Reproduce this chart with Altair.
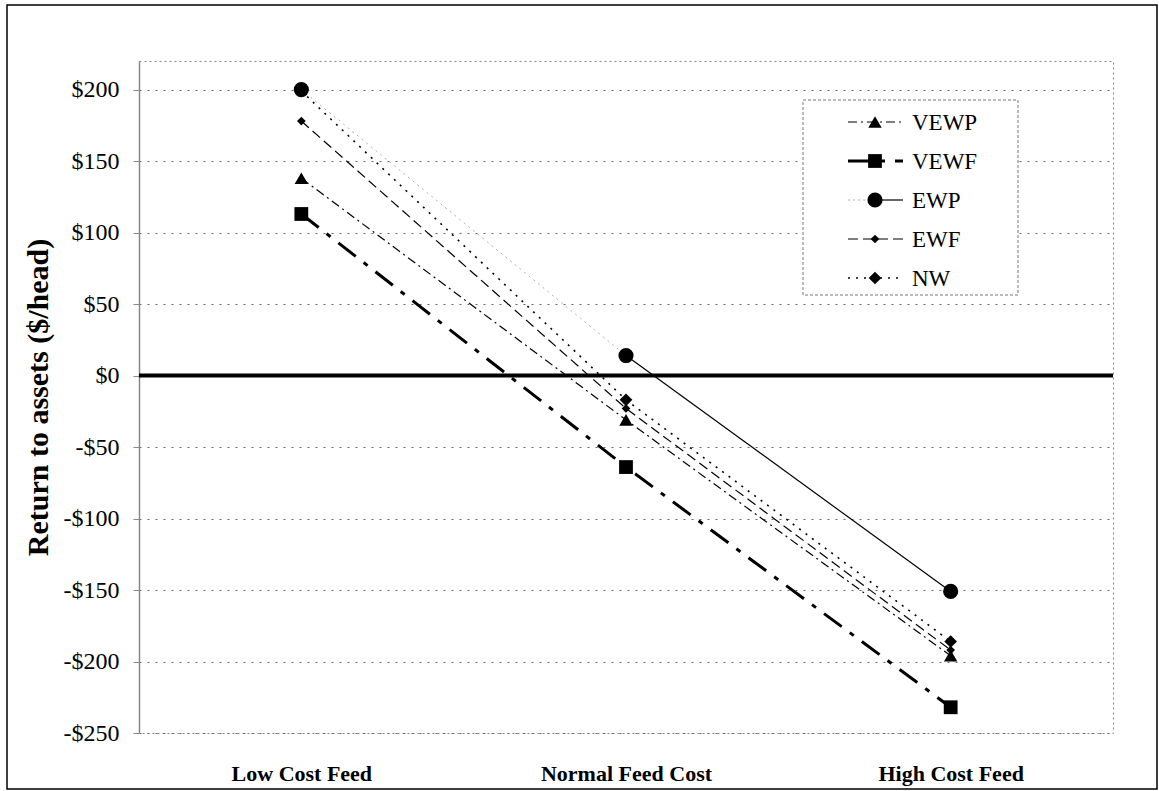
import altair as alt
import pandas as pd

# Feed-cost scenarios along the x axis
scenarios = ["Low Cost Feed", "Normal Feed Cost", "High Cost Feed"]

# Return to assets ($/head) for each weaning strategy
series_names = ["VEWP", "VEWF", "EWP", "EWF", "NW"]
vewp = [138, -31, -196]
vewf = [113, -64, -232]
ewp = [200, 14, -151]
ewf = [178, -23, -192]
nw = [199, -17, -186]
values = [vewp, vewf, ewp, ewf, nw]

y_ticks = [-250, -200, -150, -100, -50, 0, 50, 100, 150, 200]

# line / marker styling per series
styles = {
    "VEWP": dict(dash=[9, 4, 2, 4], width=1.2, shape="triangle-up", size=180),
    "VEWF": dict(dash=[22, 10, 5, 10], width=3, shape="square", size=190),
    "EWP": dict(dash=[1, 0], width=1.2, shape="circle", size=230),
    "EWF": dict(dash=[10, 5], width=1.2, shape="diamond", size=75),
    "NW": dict(dash=[2, 6], width=1.6, shape="diamond", size=160),
}

rows = []
for name, vals in zip(series_names, values):
    for s, v in zip(scenarios, vals):
        rows.append({"series": name, "scenario": s, "value": v})
df = pd.DataFrame(rows)

W, H = 974, 672
FONT = "Liberation Serif, Times New Roman, DejaVu Serif, serif"

x_enc = alt.X(
    "scenario:N",
    sort=scenarios,
    scale=alt.Scale(type="point", padding=0.5),
    axis=alt.Axis(
        title=None, labelAngle=0, ticks=False, domain=False, grid=False,
        labelFont=FONT, labelFontSize=22, labelFontWeight="bold",
        labelColor="black", labelPadding=30,
    ),
)
y_enc = alt.Y(
    "value:Q",
    scale=alt.Scale(domain=[-250, 220], nice=False, zero=False),
    axis=alt.Axis(
        title="Return to assets ($/head)", values=y_ticks,
        labelExpr="datum.value < 0 ? '-$' + abs(datum.value) : '$' + datum.value",
        labelFont=FONT, labelFontSize=24, labelColor="black", labelPadding=14,
        titleFont=FONT, titleFontSize=30, titleFontWeight="bold",
        titleColor="black", titlePadding=10,
        grid=True, gridDash=[2, 6], gridColor="#666", gridWidth=1,
        domain=True, domainColor="#888", domainWidth=1.5,
        ticks=True, tickSize=6, tickColor="#888",
    ),
)

# outer frame around the whole figure
frame = alt.Chart(pd.DataFrame({"k": [0]})).mark_rect(
    fill=None, stroke="black", strokeWidth=1.5
).encode(
    x=alt.value(-132), x2=alt.value(W + 44),
    y=alt.value(-56), y2=alt.value(H + 56),
)

zero_line = alt.Chart(pd.DataFrame({"value": [0]})).mark_rule(
    color="black", strokeWidth=4
).encode(y="value:Q")

layers = [frame, zero_line]
for name in series_names:
    st = styles[name]
    sub = df[df.series == name]
    if name == "EWP":
        # first leg printed faintly, second leg as a plain solid line
        layers.append(
            alt.Chart(sub[sub.scenario != scenarios[2]])
            .mark_line(color="#b0b0b0", strokeWidth=1, strokeDash=[2, 4])
            .encode(x=x_enc, y=y_enc)
        )
        layers.append(
            alt.Chart(sub[sub.scenario != scenarios[0]])
            .mark_line(color="black", strokeWidth=st["width"])
            .encode(x=x_enc, y=y_enc)
        )
    else:
        layers.append(
            alt.Chart(sub)
            .mark_line(color="black", strokeWidth=st["width"], strokeDash=st["dash"])
            .encode(x=x_enc, y=y_enc)
        )
    layers.append(
        alt.Chart(sub).mark_point(shape=st["shape"], size=st["size"], filled=True,
                                  color="black", opacity=1)
        .encode(x=x_enc, y=y_enc)
    )

# hand-drawn legend box in the upper right of the plot
lx0, lx1 = 664, 879
ly0, ly1 = 39, 234
legend_box = alt.Chart(pd.DataFrame({"k": [0]})).mark_rect(
    fill="white", stroke="#777", strokeWidth=1, strokeDash=[3, 2]
).encode(x=alt.value(lx0), x2=alt.value(lx1), y=alt.value(ly0), y2=alt.value(ly1))
layers.append(legend_box)

row_y0, row_step = 61, 39
for i, name in enumerate(series_names):
    st = styles[name]
    yy = row_y0 + i * row_step
    one = alt.Chart(pd.DataFrame({"k": [0]}))
    if name == "EWP":
        layers.append(
            one.mark_rule(color="#b0b0b0", strokeWidth=1, strokeDash=[2, 3])
            .encode(x=alt.value(709), x2=alt.value(736), y=alt.value(yy))
        )
        layers.append(
            one.mark_rule(color="black", strokeWidth=st["width"])
            .encode(x=alt.value(736), x2=alt.value(764), y=alt.value(yy))
        )
    else:
        layers.append(
            one.mark_rule(color="black", strokeWidth=st["width"], strokeDash=st["dash"])
            .encode(x=alt.value(709), x2=alt.value(764), y=alt.value(yy))
        )
    layers.append(
        one.mark_point(shape=st["shape"], size=st["size"], filled=True,
                       color="black", opacity=1)
        .encode(x=alt.value(736), y=alt.value(yy))
    )
    layers.append(
        one.mark_text(align="left", baseline="middle", font=FONT, fontSize=23,
                      color="black")
        .encode(x=alt.value(773), y=alt.value(yy + 1), text=alt.value(name))
    )

chart = alt.layer(*layers).properties(
    width=W, height=H,
    autosize=alt.AutoSizeParams(type="none"),
    padding={"left": 139, "top": 61, "right": 46, "bottom": 58},
    background="white",
).configure_view(
    stroke="#888", strokeDash=[2, 3], strokeWidth=1
)

chart.save("out.html", embed_options={"renderer": "svg", "actions": False})
